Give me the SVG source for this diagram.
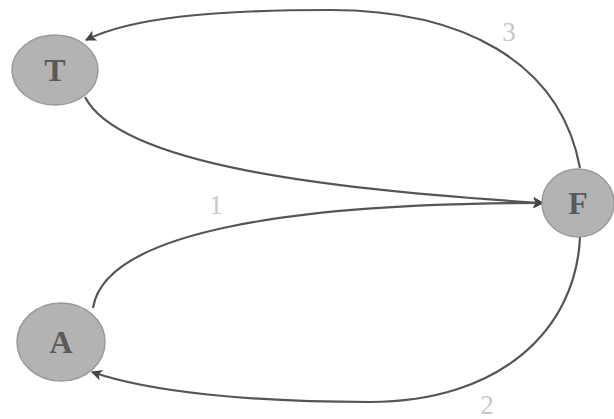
<svg xmlns="http://www.w3.org/2000/svg" width="614" height="419" viewBox="0 0 614 419">
<style>
.node{fill:#b3b3b3;stroke:#9a9a9a;stroke-width:1.5}
.nl{font-family:"Liberation Serif",serif;font-weight:bold;font-size:32px;fill:#5a5a5a;text-anchor:middle}
.edge{fill:none;stroke:#555;stroke-width:2.2;marker-end:url(#ah)}
.el{font-family:"Liberation Serif",serif;font-size:27px;fill:#c8c8cc;text-anchor:middle}
</style>
<defs>
<marker id="ah" viewBox="0 0 10 10" refX="9" refY="5" markerWidth="12" markerHeight="11" markerUnits="userSpaceOnUse" orient="auto">
<path d="M0,0 L10,5 L0,10 L2.5,5 z" fill="#444"/>
</marker>
</defs>
<g id="connectors">
<path class="edge" d="M85,97 C120,165 330,190 543,203"/>
<path class="edge" d="M93,308 C105,230 300,203 543,203"/>
<path class="edge" d="M580,168 C560,60 460,10 330,10 C210,10 130,18 86,40"/>
<path class="edge" d="M580,237 C576,330 500,402 370,402 C250,402 150,392 92,372"/>
<text class="el" x="216" y="214">1</text>
<text class="el" x="487" y="414">2</text>
<text class="el" x="509" y="41">3</text>
</g>
<g id="T"><ellipse class="node" cx="55" cy="70" rx="43" ry="35"/><text class="nl" x="55" y="81">T</text></g>
<g id="F"><ellipse class="node" cx="578" cy="203" rx="36" ry="34"/><text class="nl" x="578" y="214">F</text></g>
<g id="A"><ellipse class="node" cx="61" cy="342" rx="44" ry="39"/><text class="nl" x="61" y="353">A</text></g>
</svg>
